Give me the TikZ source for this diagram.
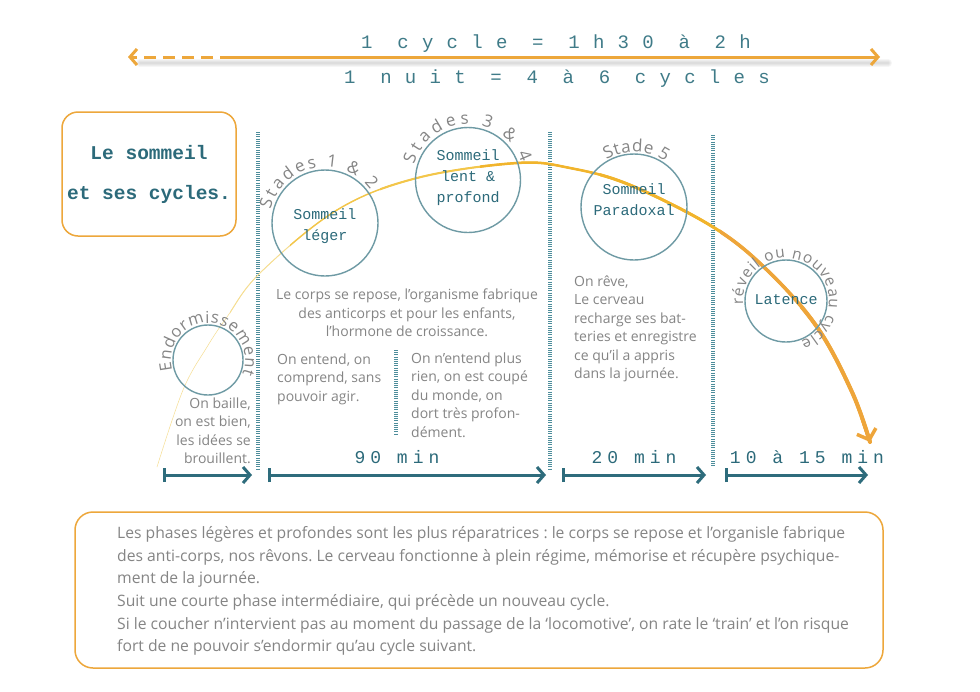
\documentclass[tikz,border=0pt]{standalone}
\usepackage{fontspec}
\setmainfont{Open Sans}
\newfontfamily\monofnt{Liberation Mono}
\newfontfamily\hdrfnt{Liberation Mono}[LetterSpace=70]
\newfontfamily\durfnt{Liberation Mono}[LetterSpace=28]
\newfontfamily\arcfnt{Open Sans}
\usetikzlibrary{decorations.text,arrows.meta}
\definecolor{orng}{HTML}{EDA73B}
\definecolor{tealtxt}{HTML}{2C6A7A}
\definecolor{hdrtxt}{HTML}{3F7B88}
\definecolor{circc}{HTML}{6E9AA4}
\definecolor{hatchc}{HTML}{4D8D9B}
\definecolor{grytxt}{HTML}{858585}
\definecolor{durc}{HTML}{2E6C7C}
\definecolor{cv1}{HTML}{F6DE92}
\definecolor{cv2}{HTML}{F3C64A}
\definecolor{cv3}{HTML}{F1B42C}
\definecolor{cv4}{HTML}{EEA53A}
\frenchspacing
\begin{document}
\begin{tikzpicture}[x=1pt,y=-1pt,
  hatch/.style={line width=4pt, draw=hatchc, dash pattern=on 1pt off 1.2pt},
  cyc/.style={circle, draw=circc, line width=1.4pt, minimum size=#1, inner sep=0},
  ctext/.style={font=\monofnt\fontsize{15}{21}\selectfont, text=tealtxt, align=center, inner sep=0},
  gtext/.style={font=\fontsize{14}{18.5}\selectfont, text=grytxt, inner sep=0},
  dur/.style={line width=3pt, draw=durc, {Bar[width=14pt]}-{Straight Barb[length=7pt,width=16pt]}},
  durlbl/.style={font=\durfnt\fontsize{18}{18}\selectfont, text=tealtxt, inner sep=0},
  hdr/.style={font=\hdrfnt\fontsize{19}{19}\selectfont, text=hdrtxt, inner sep=0},
  rbox/.style={draw=orng, line width=1.5pt, rounded corners=16pt},
  hline/.style={draw=orng, line width=3pt},
]
\fill[white] (0,0) rectangle (980,691);
\useasboundingbox (0,0) rectangle (980,691);

% header arrow
\foreach \w in {2,4,6,8}
  \draw[black!60, opacity=0.06, line width=\w pt, line cap=round] (140,63) -- (888,63);
\coordinate (hl) at (128,57);
\coordinate (hm) at (232,57);
\coordinate (hr) at (880,57);
\draw[hline, -{Straight Barb[length=7pt,width=16pt]}] (hm) -- (hr);
\draw[hline, dash pattern=on 12pt off 7pt, -{Straight Barb[length=7pt,width=16pt]}] (hm) -- (hl);
\node[hdr, anchor=base] (h1) at (556,48) {1 cycle = 1h30 à 2h};
\node[hdr, anchor=base] (h2) at (557,83) {1 nuit = 4 à 6 cycles};

% title box
\node[rbox, minimum width=174pt, minimum height=124pt, align=center,
      font=\monofnt\bfseries\fontsize{19.5}{40}\selectfont, text=tealtxt] (title) at (149,174)
      {Le sommeil\\et ses cycles.};

% bottom box
\node[rbox, rounded corners=18pt, minimum width=808pt, minimum height=156pt] (notes) at (479,590) {};
\node[gtext, font=\fontsize{15.7}{22.6}\selectfont, align=left, anchor=west] (notetext) at (117,591)
 {Les phases légères et profondes sont les plus réparatrices : le corps se repose et l’organisle fabrique\\
  des anti-corps, nos rêvons. Le cerveau fonctionne à plein régime, mémorise et récupère psychique-\\
  ment de la journée.\\
  Suit une courte phase intermédiaire, qui précède un nouveau cycle.\\
  Si le coucher n’intervient pas au moment du passage de la ‘locomotive’, on rate le ‘train’ et l’on risque\\
  fort de ne pouvoir s’endormir qu’au cycle suivant.};

% hatched separators
\coordinate (s1a) at (258,132); \coordinate (s1b) at (258,470);
\coordinate (s2a) at (550,132); \coordinate (s2b) at (550,470);
\coordinate (s3a) at (713,135); \coordinate (s3b) at (713,466);
\coordinate (s4a) at (396,350); \coordinate (s4b) at (396,434);
\draw[hatch] (s1a) -- (s1b);
\draw[hatch] (s2a) -- (s2b);
\draw[hatch] (s3a) -- (s3b);
\draw[hatch] (s4a) -- (s4b);

% orange tapering curve
\foreach \xs/\w/\col in {140/0.5/cv1, 230/0.9/cv1, 290/1.4/cv2, 380/2.0/cv2, 480/2.5/cv3, 600/3.0/cv3, 720/3.5/cv4, 800/4.0/cv4}{
  \begin{scope}
    \clip (\xs,0) rectangle (980,691);
    \draw[line width=\w pt, draw=\col, line cap=round] plot[smooth, tension=0.6] coordinates
      {(157,467) (183,390) (207,347) (227,317) (260,273) (337,210) (417,178) (517,163) (570,168) (630,185) (713,227) (767,270) (817,327) (852,392) (870,442)};
  \end{scope}
}
\coordinate (ca) at (862,418);
\coordinate (cb) at (870,442);
\draw[cv4, line width=3.5pt, -{Straight Barb[length=9pt,width=20pt]}] (ca) -- (cb);

% circles
\node[cyc=70pt] (endo) at (208,360) {};
\node[cyc=106pt] (leger) at (325,223) {};
\node[cyc=105pt] (lent) at (468,180) {};
\node[cyc=106pt] (parad) at (634,207) {};
\node[cyc=82pt] (lat) at (786,301) {};

\node[ctext] (legert) at (325,226) {Sommeil\\léger};
\node[ctext] (lentt) at (468,178) {Sommeil\\lent \&\\profond};
\node[ctext] (paradt) at (634,200) {Sommeil\\Paradoxal};
\node[ctext] (latt) at (786,300) {Latence};

% curved labels
\path[decorate, decoration={text along path, text color=grytxt, text align={fit to path},
  text={|\arcfnt\fontsize{16.5}{16.5}\selectfont|Endormissement}}]
  (endo.center) ++(-196:37) arc[start angle=-196, end angle=22, radius=37];
\path[decorate, decoration={text along path, text color=grytxt, text align={fit to path},
  text={|\arcfnt\fontsize{17}{17}\selectfont|Stades 1 {\&} 2}}]
  (leger.center) ++(-166:56) arc[start angle=-166, end angle=-36, radius=56];
\path[decorate, decoration={text along path, text color=grytxt, text align={fit to path},
  text={|\arcfnt\fontsize{17}{17}\selectfont|Stades 3 {\&} 4}}]
  (lent.center) ++(-164:56) arc[start angle=-164, end angle=-18, radius=56];
\path[decorate, decoration={text along path, text color=grytxt, text align={fit to path},
  text={|\arcfnt\fontsize{17}{17}\selectfont|Stade 5}}]
  (parad.center) ++(-120:55) arc[start angle=-120, end angle=-55, radius=55];
\path[decorate, decoration={text along path, text color=grytxt, text align={fit to path},
  text={|\arcfnt\fontsize{15.5}{15.5}\selectfont|réveil ou nouveau cycle}}]
  (lat.center) ++(-185:43) arc[start angle=-185, end angle=70, radius=43];

% grey texts
\node[gtext, align=center] (corps) at (407,313)
  {Le corps se repose, l’organisme fabrique\\des anticorps et pour les enfants,\\l’hormone de croissance.};
\node[gtext, align=left, anchor=west] (entend) at (277,379)
  {On entend, on\\comprend, sans\\pouvoir agir.};
\node[gtext, align=left, anchor=west] (nentend) at (411,395)
  {On n’entend plus\\rien, on est coupé\\du monde, on\\dort très profon-\\dément.};
\node[gtext, align=right, anchor=east] (baille) at (251,431)
  {On baille,\\on est bien,\\les idées se\\brouillent.};
\node[gtext, align=left, anchor=west] (reve) at (574,329)
  {On rêve,\\Le cerveau\\recharge ses bat-\\teries et enregistre\\ce qu’il a appris\\dans la journée.};

% durations
\coordinate (d1a) at (163,475); \coordinate (d1b) at (252,475);
\coordinate (d2a) at (268,475); \coordinate (d2b) at (546,475);
\coordinate (d3a) at (562,475); \coordinate (d3b) at (706,475);
\coordinate (d4a) at (725,475); \coordinate (d4b) at (868,475);
\draw[dur] (d1a) -- (d1b);
\draw[dur] (d2a) -- (d2b);
\draw[dur] (d3a) -- (d3b);
\draw[dur] (d4a) -- (d4b);
\node[durlbl] (l90) at (397,457) {90 min};
\node[durlbl] (l20) at (634,457) {20 min};
\node[durlbl] (l10) at (807,457) {10 à 15 min};
\end{tikzpicture}
\end{document}
